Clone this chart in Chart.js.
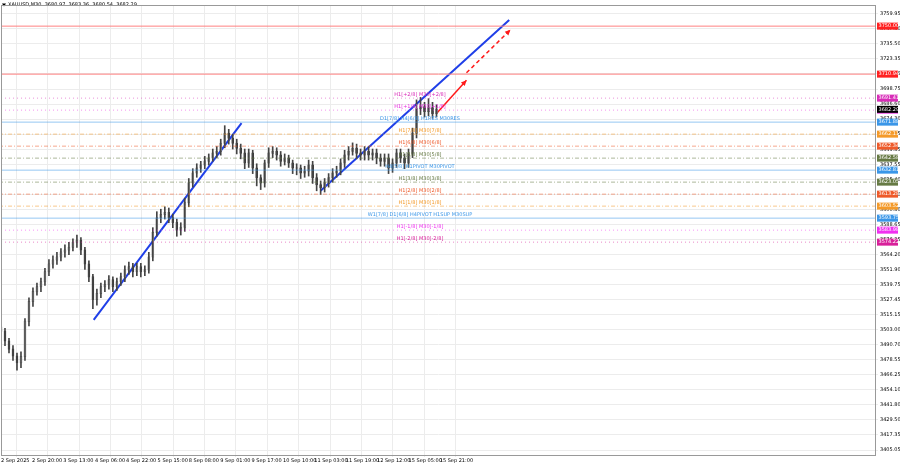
<!DOCTYPE html>
<html><head><meta charset="utf-8">
<script src="https://cdn.jsdelivr.net/npm/chart.js@4"></script>
<style>html,body{margin:0;background:#fff}</style>
</head><body><canvas id="myChart" width="900" height="468"></canvas>
<script>
const closes = [3501.6,3493.6,3487,3481.5,3476,3481,3509.6,3525.7,3533.8,3537.8,3541.8,3549.9,3556.3,3559.5,3562,3566,3567.6,3570,3574,3575.6,3567.6,3556.3,3545.8,3527.4,3532.2,3537.8,3539.5,3543.5,3537.8,3541.8,3545.8,3551.5,3554,3550,3554,3550,3551.5,3562,3582,3594,3596.6,3598.2,3594,3590,3583.7,3586.1,3606.2,3622.3,3630.4,3634.4,3636.9,3640,3642.5,3646.5,3648.1,3654.6,3662.6,3658.6,3654.6,3650.5,3646.5,3638.4,3646.5,3634.4,3626.4,3622.3,3638.4,3646.5,3648.1,3644.9,3640,3642.5,3638.4,3634.4,3634.4,3630.4,3632,3636.9,3626.4,3620.7,3618.3,3622.3,3626.4,3630.4,3632,3638.4,3644.9,3648.1,3650.5,3646.5,3644.9,3648.1,3644.9,3646.5,3642.5,3640,3642.5,3634.4,3638.4,3646.5,3642.5,3638.4,3646.5,3662.6,3682.7,3684.3,3680.3,3683.5,3678.6,3682.3];
const highs = [3508,3504,3496,3490,3484,3485,3512,3529,3537,3541,3545,3553,3560,3563,3566,3569,3572,3574,3577,3580,3578,3570,3559,3548,3536,3541,3543,3547,3546,3545,3549,3555,3558,3557,3557,3557,3555,3566,3586,3599,3601,3603,3602,3597,3593,3590,3610,3626,3634,3638,3640,3644,3646,3650,3652,3658,3669,3666,3662,3658,3654,3650,3650,3649,3638,3629,3641,3651,3652,3651,3648,3646,3645,3641,3638,3637,3636,3641,3640,3630,3624,3626,3630,3634,3636,3642,3649,3652,3655,3654,3650,3652,3652,3650,3650,3646,3646,3646,3642,3650,3650,3646,3650,3667,3690,3692,3688,3691,3688,3686];
const lows = [3498,3490,3484,3478,3470,3472,3478,3506,3522,3531,3534,3539,3547,3553,3556,3559,3562,3564,3567,3570,3564,3552,3542,3520,3523,3529,3534,3536,3534,3535,3539,3542,3548,3546,3547,3546,3547,3549,3559,3579,3590,3593,3590,3586,3579,3580,3583,3603,3619,3627,3631,3634,3637,3640,3643,3645,3651,3654,3650,3646,3642,3634,3635,3630,3620,3617,3619,3635,3643,3641,3636,3637,3635,3630,3629,3626,3627,3628,3622,3616,3613,3615,3619,3623,3627,3629,3635,3641,3645,3642,3641,3641,3641,3641,3638,3636,3636,3630,3631,3635,3639,3634,3635,3643,3659,3678,3676,3677,3675,3676];
const firstOpen = 3505;

const levelPrices = [3691.41,3681.64,3671.88,3662.11,3652.34,3642.58,3632.81,3623.05,3613.28,3603.52,3593.75,3583.98,3574.22];
const levelNames = ['H1[+2/8] M30[+2/8]','H1[+1/8] M30[+1/8]','D1[7/8] H4[6/8] H1RES M30RES','H1[7/8] M30[7/8]','H1[6/8] M30[6/8]','H1[5/8] M30[5/8]','H4[5/8] H1PIVOT M30PIVOT','H1[3/8] M30[3/8]','H1[2/8] M30[2/8]','H1[1/8] M30[1/8]','W1[7/8] D1[6/8] H4PIVOT H1SUP M30SUP','H1[-1/8] M30[-1/8]','H1[-2/8] M30[-2/8]'];
const levelColors = ['#d82cb8','#e830e0','#3a96e8','#f49a2a','#ee5a2a','#667a44','#3a96e8','#667a44','#ee5a2a','#f49a2a','#3a96e8','#f030f0','#d8209a'];
const targetPrices = [3750.00,3710.94];
const lastPrice = 3682.29;

const yTicks = [3759.95,3747.80,3735.50,3723.35,3711.05,3698.75,3686.60,3674.30,3662.15,3649.85,3637.55,3625.40,3613.10,3600.80,3588.65,3576.35,3564.20,3551.90,3539.75,3527.45,3515.15,3503.00,3490.70,3478.55,3466.25,3454.10,3441.80,3429.50,3417.35,3405.05];
const dateTicks = [0,7.75,15.6,23.5,31.3,39.2,47.0,54.9,62.7,70.6,78.4,86.3,94.1,102,109.8];
const dateLabels = ['2 Sep 2025','2 Sep 20:00','3 Sep 13:00','4 Sep 06:00','4 Sep 22:00','5 Sep 15:00','8 Sep 08:00','9 Sep 01:00','9 Sep 17:00','10 Sep 10:00','11 Sep 03:00','11 Sep 19:00','12 Sep 12:00','15 Sep 05:00','15 Sep 21:00'];

const trend1 = [{x:23.2,y:3511},{x:60.2,y:3671}];
const trend2 = [{x:80,y:3616},{x:127.2,y:3755}];
const arrowSolid = [{x:109,y:3679},{x:116.5,y:3706}];
const arrowDash = [{x:116.5,y:3712},{x:127.5,y:3747}];

const opens = closes.map((c, i) => i === 0 ? firstOpen : closes[i - 1]);
const wicks = closes.map((c, i) => ({x: i, y: [lows[i], highs[i]]}));
const bodies = closes.map((c, i) => ({x: i, y: [Math.min(opens[i], c), Math.max(opens[i], c) + 0.3]}));
const bodyFill = closes.map((c, i) => c >= opens[i] ? '#ffffff' : '#333333');

const levelDash = ['dot','dot','solid','dashdot','dashdot','dashdot','solid','dashdot','dashdot','dashdot','solid','dot','dot'];
const dashOf = {dot:[1,3], solid:[], dashdot:[4,2,1,2]};

const datasets = [];
targetPrices.forEach(p => datasets.push({type:'line', data:[{x:-5,y:p},{x:230,y:p}], borderColor:'#ff8080', borderWidth:1, pointRadius:0}));
levelPrices.forEach((p, i) => datasets.push({type:'line', data:[{x:-5,y:p},{x:230,y:p}], borderColor:levelColors[i] + '88', borderWidth:1, borderDash:dashOf[levelDash[i]], pointRadius:0}));
datasets.push({type:'bar', data:wicks, backgroundColor:'#444', barThickness:1, grouped:false});
datasets.push({type:'bar', data:bodies, backgroundColor:bodyFill, borderColor:'#444', borderWidth:0.5, borderSkipped:false, barThickness:2, grouped:false});
datasets.push({type:'line', data:trend1, borderColor:'#1f3fe8', borderWidth:2, pointRadius:0});
datasets.push({type:'line', data:trend2, borderColor:'#1f3fe8', borderWidth:2, pointRadius:0});
datasets.push({type:'line', data:arrowSolid, borderColor:'#ff1a1a', borderWidth:1.5, pointRadius:0});
datasets.push({type:'line', data:arrowDash, borderColor:'#ff1a1a', borderWidth:1.5, borderDash:[4,3], pointRadius:0});

const overlay = {
    id: 'overlay',
    afterDatasetsDraw(chart) {
        const {ctx, scales: {x, y}, chartArea: a} = chart;
        ctx.save();
        ctx.font = '5px "DejaVu Sans"';
        ctx.textAlign = 'center';
        ctx.textBaseline = 'bottom';
        levelPrices.forEach((p, i) => {
            ctx.fillStyle = levelColors[i];
            ctx.fillText(levelNames[i], 420, y.getPixelForValue(p) - 1);
        });
        // arrow heads
        [arrowSolid, arrowDash].forEach(seg => {
            const x1 = x.getPixelForValue(seg[0].x), y1 = y.getPixelForValue(seg[0].y);
            const x2 = x.getPixelForValue(seg[1].x), y2 = y.getPixelForValue(seg[1].y);
            const ang = Math.atan2(y2 - y1, x2 - x1);
            ctx.fillStyle = '#ff1a1a';
            ctx.beginPath();
            ctx.moveTo(x2, y2);
            ctx.lineTo(x2 - 6 * Math.cos(ang - 0.45), y2 - 6 * Math.sin(ang - 0.45));
            ctx.lineTo(x2 - 6 * Math.cos(ang + 0.45), y2 - 6 * Math.sin(ang + 0.45));
            ctx.fill();
        });
        // price boxes on the right axis
        ctx.textAlign = 'left';
        ctx.textBaseline = 'middle';
        const box = (p, col) => {
            const py = y.getPixelForValue(p);
            ctx.fillStyle = col;
            ctx.fillRect(a.right + 1, py - 3.5, 21, 7);
            ctx.fillStyle = '#fff';
            ctx.fillText(p.toFixed(2), a.right + 2.5, py);
        };
        targetPrices.forEach(p => box(p, '#ff2020'));
        levelPrices.forEach((p, i) => box(p, levelColors[i]));
        box(lastPrice, '#000000');
        // header
        ctx.fillStyle = '#000';
        ctx.fillText('XAUUSD,M30  3680.97  3683.36  3680.54  3682.29', 8, 5);
        ctx.beginPath();
        ctx.moveTo(2, 3.5); ctx.lineTo(6, 3.5); ctx.lineTo(4, 6.5); ctx.fill();
        ctx.strokeStyle = '#999';
        ctx.lineWidth = 1;
        ctx.strokeRect(a.left + 0.5, a.top + 0.5, a.width - 1, a.height);
        ctx.restore();
    }
};

new Chart(document.getElementById('myChart'), {
    type: 'bar',
    data: {datasets},
    options: {
        animation: false,
        responsive: false,
        devicePixelRatio: 1,
        layout: {padding: {top: -3, left: 0, right: 0, bottom: 0}},
        plugins: {legend: {display: false}, tooltip: {enabled: false}},
        scales: {
            x: {
                type: 'linear', min: 0, max: 219, offset: false,
                afterBuildTicks: ax => { ax.ticks = dateTicks.map(v => ({value: v})); },
                afterFit: ax => { ax.height = 13; },
                grid: {color: '#ececec', tickLength: 2},
                border: {display: false},
                ticks: {font: {size: 5, family: 'DejaVu Sans'}, color: '#000', padding: 1, maxRotation: 0, align: 'start', autoSkip: false,
                    callback: (v, i) => dateLabels[i]}
            },
            y: {
                type: 'linear', position: 'right', min: 3401, max: 3767.2,
                afterBuildTicks: ax => { ax.ticks = yTicks.map(v => ({value: v})); },
                afterFit: ax => { ax.width = 24; },
                grid: {color: '#ececec', tickLength: 2},
                border: {display: false},
                ticks: {font: {size: 5, family: 'DejaVu Sans'}, color: '#000', padding: 2, autoSkip: false,
                    callback: v => v.toFixed(2)}
            }
        }
    },
    plugins: [overlay]
});
</script>
</body></html>
